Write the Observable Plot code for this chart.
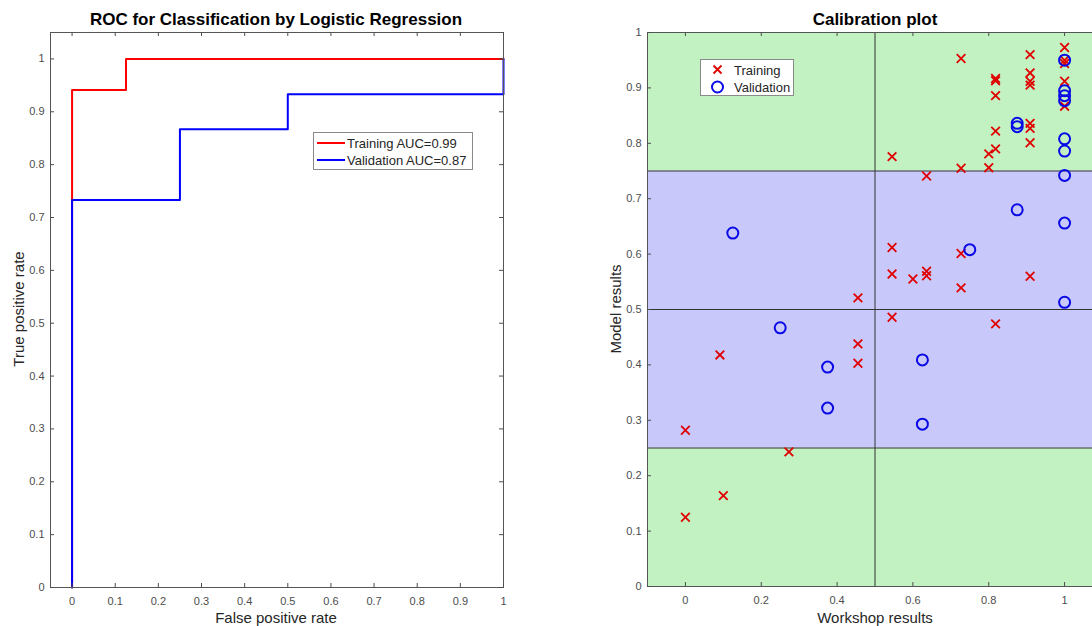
<!DOCTYPE html>
<html>
<head>
<meta charset="utf-8">
<script src="https://cdn.jsdelivr.net/npm/d3@7"></script>
<script src="https://cdn.jsdelivr.net/npm/@observablehq/plot@0.6"></script>
<style>
  html, body { margin: 0; padding: 0; background: #fff; overflow: hidden; }
  #wrap { position: relative; width: 1092px; height: 626px; overflow: hidden; font-family: "Liberation Sans", Arial, sans-serif; }
  #wrap > svg { position: absolute; top: 0; }
  .lbl { position: absolute; white-space: nowrap; line-height: 1; }
  .title { font-weight: bold; font-size: 17px; color: #000; transform: translate(-50%, -50%); }
  .xlab { font-size: 15px; color: #262626; transform: translate(-50%, -50%); }
  .ylab { font-size: 15px; color: #262626; transform: translate(-50%, -50%) rotate(-90deg); }
  .legend { position: absolute; background: #fff; border: 1px solid #8a8a8a; box-sizing: border-box; font-size: 13px; color: #262626; }
  .legend .row { position: absolute; left: 0; height: 16px; display: flex; align-items: center; }
</style>
</head>
<body>
<div id="wrap"></div>
<script>
// ---------- ROC data ----------
const rocTrainFPR = [0, 0, 0.125, 0.125, 1];
const rocTrainTPR = [0, 0.941, 0.941, 1, 1];
const rocValFPR   = [0, 0, 0.25, 0.25, 0.5, 0.5, 1, 1];
const rocValTPR   = [0, 0.733, 0.733, 0.867, 0.867, 0.933, 0.933, 1];
const rocTicks    = [0, 0.1, 0.2, 0.3, 0.4, 0.5, 0.6, 0.7, 0.8, 0.9, 1];
const rocSeriesNames = ["Training AUC=0.99", "Validation AUC=0.87"];

// ---------- Calibration data ----------
const trainWorkshop = [0, 0, 0.1, 0.091, 0.273,
  0.455, 0.455, 0.455,
  0.545, 0.545, 0.545, 0.545,
  0.6,
  0.636, 0.636, 0.636,
  0.727, 0.727, 0.727, 0.727,
  0.8, 0.8,
  0.818, 0.818, 0.818, 0.818, 0.818, 0.818,
  0.909, 0.909, 0.909, 0.909, 0.909, 0.909, 0.909, 0.909,
  1, 1, 1, 1, 1];
const trainModel = [0.282, 0.125, 0.164, 0.418, 0.243,
  0.521, 0.438, 0.403,
  0.776, 0.612, 0.564, 0.486,
  0.555,
  0.741, 0.569, 0.561,
  0.953, 0.755, 0.601, 0.539,
  0.781, 0.756,
  0.917, 0.913, 0.886, 0.822, 0.790, 0.474,
  0.960, 0.927, 0.912, 0.905, 0.836, 0.827, 0.801, 0.560,
  0.973, 0.950, 0.944, 0.912, 0.867];
const valWorkshop = [0.125, 0.25, 0.375, 0.375, 0.625, 0.625, 0.75, 0.875, 0.875, 0.875,
  1, 1, 1, 1, 1, 1, 1, 1, 1];
const valModel = [0.638, 0.467, 0.396, 0.322, 0.409, 0.293, 0.608, 0.680, 0.836, 0.830,
  0.950, 0.895, 0.886, 0.877, 0.808, 0.786, 0.742, 0.656, 0.513];
const zoneLow  = [0, 0.25, 0.75];
const zoneHigh = [0.25, 0.75, 1];
const zoneKind = ["agree", "disagree", "agree"];
const refX = [0.5];
const refY = [0.25, 0.5, 0.75];
const calXTicks = [0, 0.2, 0.4, 0.6, 0.8, 1];
const calYTicks = [0, 0.1, 0.2, 0.3, 0.4, 0.5, 0.6, 0.7, 0.8, 0.9, 1];
const calSeriesNames = ["Training", "Validation"];

// ---------- build tables ----------
const rocTrain = rocTrainFPR.map((f, i) => ({fpr: f, tpr: rocTrainTPR[i]}));
const rocVal = rocValFPR.map((f, i) => ({fpr: f, tpr: rocValTPR[i]}));
const calTrain = trainWorkshop.map((w, i) => ({w, m: trainModel[i]}));
const calVal = valWorkshop.map((w, i) => ({w, m: valModel[i]}));
const zones = zoneLow.map((lo, i) => ({lo, hi: zoneHigh[i], kind: zoneKind[i]}));

const RED = "#ff0000", BLUE = "#0000ff";
const XRED = "#e00000", OBLUE = "#0a0ae6";
const GREEN_BG = "#c2f2c2", LAV_BG = "#c8c8fa";
const AXC = "#4d4d4d";
const fmt = d3.format("~g");
const TICK = 4;

const baseStyle = {fontFamily: "'Liberation Sans', Arial, sans-serif", fontSize: "11px", color: AXC, background: "transparent", overflow: "visible"};

// inward Matlab-style ticks on all four sides + outside labels
function axes(xt, yt, fw, fh) {
  return [
    Plot.tickX(xt, {x: d => d, insetTop: fh - TICK, stroke: AXC}),
    Plot.tickX(xt, {x: d => d, insetBottom: fh - TICK, stroke: AXC}),
    Plot.tickY(yt, {y: d => d, insetRight: fw - TICK, stroke: AXC}),
    Plot.tickY(yt, {y: d => d, insetLeft: fw - TICK, stroke: AXC}),
    Plot.axisX(xt, {anchor: "bottom", tickSize: 0, tickPadding: 10, tickFormat: fmt, label: null}),
    Plot.axisY(yt, {anchor: "left", tickSize: 0, tickPadding: 6, tickFormat: fmt, label: null})
  ];
}

const wrap = document.getElementById("wrap");

// ---------- Left: ROC ----------
const L = {w: 520, h: 626, ml: 50, mr: 17, mt: 32, mb: 39};
const roc = Plot.plot({
  width: L.w, height: L.h,
  marginLeft: L.ml, marginRight: L.mr, marginTop: L.mt, marginBottom: L.mb,
  x: {domain: [-0.05, 1]},
  y: {domain: [0, 1.05]},
  style: baseStyle,
  marks: [
    Plot.line(rocTrain, {x: "fpr", y: "tpr", stroke: RED, strokeWidth: 2}),
    Plot.line(rocVal, {x: "fpr", y: "tpr", stroke: BLUE, strokeWidth: 2}),
    Plot.frame({stroke: "#555"}),
    ...axes(rocTicks, rocTicks, L.w - L.ml - L.mr, L.h - L.mt - L.mb)
  ]
});
roc.style.left = "0px";
wrap.appendChild(roc);

// ---------- Right: Calibration ----------
const R = {w: 520, h: 626, ml: 47, mr: 18, mt: 32, mb: 40};
const cal = Plot.plot({
  width: R.w, height: R.h,
  marginLeft: R.ml, marginRight: R.mr, marginTop: R.mt, marginBottom: R.mb,
  x: {domain: [-0.1, 1.1]},
  y: {domain: [0, 1]},
  style: baseStyle,
  marks: [
    Plot.rect(zones, {y1: "lo", y2: "hi", fill: d => d.kind === "agree" ? GREEN_BG : LAV_BG}),
    Plot.ruleX(refX, {stroke: "#333", strokeWidth: 1}),
    Plot.ruleY(refY, {stroke: "#333", strokeWidth: 1}),
    Plot.dot(calTrain, {x: "w", y: "m", symbol: "times", r: 4, stroke: XRED, strokeWidth: 1.8}),
    Plot.dot(calVal, {x: "w", y: "m", symbol: "circle", r: 5.5, stroke: OBLUE, strokeWidth: 2, fill: "none"}),
    Plot.frame({stroke: "#555"}),
    ...axes(calXTicks, calYTicks, R.w - R.ml - R.mr, R.h - R.mt - R.mb)
  ]
});
cal.style.left = "600px";
wrap.appendChild(cal);

// ---------- Text labels ----------
function label(cls, text, x, y) {
  const d = document.createElement("div");
  d.className = "lbl " + cls;
  d.textContent = text;
  d.style.left = x + "px";
  d.style.top = y + "px";
  wrap.appendChild(d);
}
label("title", "ROC for Classification by Logistic Regression", 276, 19);
label("xlab", "False positive rate", 276, 617);
label("ylab", "True positive rate", 18, 309);
label("title", "Calibration plot", 875, 19);
label("xlab", "Workshop results", 875, 617);
label("ylab", "Model results", 615, 309);

// ---------- Legends ----------
function legend(x, y, w, h, items) {
  const box = document.createElement("div");
  box.className = "legend";
  Object.assign(box.style, {left: x + "px", top: y + "px", width: w + "px", height: h + "px"});
  items.forEach(it => {
    const row = document.createElement("div");
    row.className = "row";
    row.style.top = it.top + "px";
    row.innerHTML = it.svg + `<span style="margin-left:${it.gap}px">${it.text}</span>`;
    box.appendChild(row);
  });
  wrap.appendChild(box);
}
const lineSym = c => `<svg width="33" height="16" style="display:block"><line x1="3" x2="31" y1="8" y2="8" stroke="${c}" stroke-width="2"/></svg>`;
legend(313, 132, 160, 38, [
  {svg: lineSym(RED), text: rocSeriesNames[0], top: 2, gap: 0},
  {svg: lineSym(BLUE), text: rocSeriesNames[1], top: 19, gap: 0}
]);
const crossSym = `<svg width="32" height="16" style="display:block"><path d="M12.5,3.5L20.5,11.5M20.5,3.5L12.5,11.5" stroke="${XRED}" stroke-width="1.8"/></svg>`;
const circSym = `<svg width="32" height="16" style="display:block"><circle cx="16.5" cy="8" r="5.5" fill="none" stroke="${OBLUE}" stroke-width="2"/></svg>`;
legend(700, 59, 94, 37, [
  {svg: crossSym, text: calSeriesNames[0], top: 2, gap: 1},
  {svg: circSym, text: calSeriesNames[1], top: 19, gap: 1}
]);
</script>
</body>
</html>
